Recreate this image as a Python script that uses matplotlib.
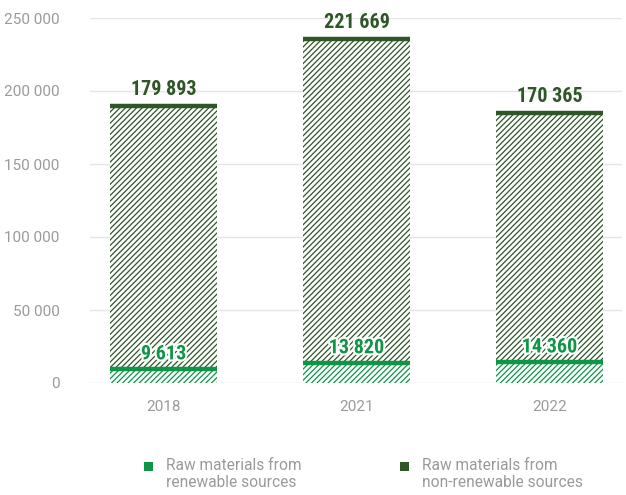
import matplotlib
matplotlib.use("Agg")
import matplotlib.pyplot as plt
import matplotlib.patheffects as pe
from matplotlib.patches import Rectangle
import numpy as np

years = ["2018", "2021", "2022"]
renewable = [9613, 13820, 14360]
non_renewable = [179893, 221669, 170365]
yticks = [0, 50000, 100000, 150000, 200000, 250000]
legend_labels = ["Raw materials from\nrenewable sources", "Raw materials from\nnon-renewable sources"]

DARK = "#2e5626"
BRIGHT = "#0e9546"
GREY = "#9a9a9a"
LABEL_FONT = ["Liberation Sans Narrow", "Roboto Condensed", "Liberation Sans", "DejaVu Sans"]
TEXT_FONT = ["Roboto", "Liberation Sans", "DejaVu Sans"]

def fmt(v):
    return f"{v:,}".replace(",", " ")

plt.rcParams["hatch.linewidth"] = 0.9

fig = plt.figure(figsize=(6.26, 4.95), dpi=100)
ax = fig.add_axes([90 / 626, 112 / 495, 532 / 626, 365 / 495])

x = np.arange(len(years))
w = 0.554
ren = np.array(renewable)
non = np.array(non_renewable)
tot = ren + non

ax.bar(x, ren, width=w, color="white", edgecolor=BRIGHT, hatch="//////", linewidth=0, zorder=2)
ax.bar(x, non, width=w, bottom=ren, color="white", edgecolor=DARK, hatch="//////", linewidth=0, zorder=2)
ax.hlines(ren, x - w / 2, x + w / 2, color=BRIGHT, linewidth=3.2, zorder=3)
ax.hlines(tot, x - w / 2, x + w / 2, color=DARK, linewidth=3.2, zorder=3)

for xi, r, n, t in zip(x, ren, non, tot):
    ax.annotate(fmt(n), (xi, t), xytext=(0, 5), textcoords="offset points",
                ha="center", va="bottom", fontsize=14.5, fontweight="bold",
                color=DARK, family=LABEL_FONT, zorder=4)
    ax.annotate(fmt(r), (xi, r), xytext=(0, 4), textcoords="offset points",
                ha="center", va="bottom", fontsize=14.5, fontweight="bold",
                color=BRIGHT, family=LABEL_FONT, zorder=4,
                path_effects=[pe.withStroke(linewidth=3, foreground="white")])

ax.set_xlim(-0.381, 2.376)
ax.set_ylim(0, 250000)
ax.set_yticks(yticks)
ax.set_yticklabels([fmt(v) for v in yticks], family=TEXT_FONT, fontsize=11, color=GREY)
ax.set_xticks(x)
ax.set_xticklabels(years, family=TEXT_FONT, fontsize=11, color=GREY)
ax.tick_params(axis="y", length=0, pad=22)
ax.tick_params(axis="x", length=0, pad=12)
ax.grid(axis="y", color="#e5e5e5", linewidth=1, zorder=0)
ax.set_axisbelow(True)
for s in ax.spines.values():
    s.set_visible(False)

# legend
leg_x = [144 / 626, 400 / 626]
for lx, col, lab in zip(leg_x, [BRIGHT, DARK], legend_labels):
    fig.add_artist(Rectangle((lx, 1 - 471 / 495), 9 / 626, 9 / 495, transform=fig.transFigure,
                             facecolor=col, edgecolor="none"))
    fig.text(lx + 22 / 626, 1 - 458 / 495, lab, ha="left", va="top", fontsize=11.2,
             color=GREY, family=TEXT_FONT, linespacing=1.15)

fig.savefig("out.png", dpi=100)
